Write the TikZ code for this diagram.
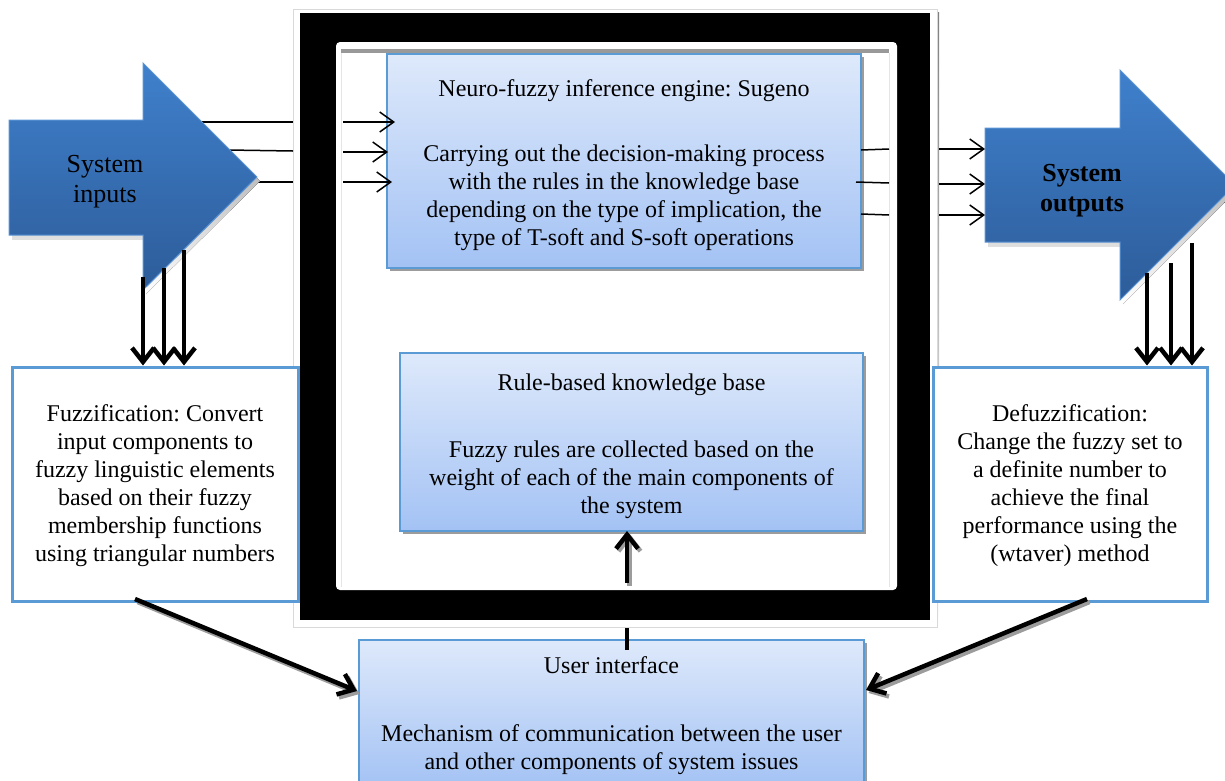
\documentclass[tikz,border=0pt]{standalone}
\usepackage{fontspec}
\setmainfont{Liberation Serif}
\usetikzlibrary{arrows.meta,shadows,calc}
\frenchspacing

\definecolor{boxline}{HTML}{5B9BD5}
\definecolor{boxtop}{HTML}{DEE9FB}
\definecolor{boxbot}{HTML}{A3C2F4}
\definecolor{bigtop}{HTML}{3F80CC}
\definecolor{bigbot}{HTML}{2D5C99}
\definecolor{bigline}{HTML}{5A93D4}
\definecolor{shade}{HTML}{9C9C9C}

\tikzset{
  txt/.style={font=\fontsize{24}{28}\selectfont, align=center, text=black, inner sep=0pt},
  bigtxt/.style={font=\fontsize{26}{30}\selectfont, align=center, text=black},
  bluebox/.style={draw=boxline, line width=1.5pt, top color=boxtop, bottom color=boxbot,
    inner sep=0pt, drop shadow={shadow xshift=2.5pt, shadow yshift=-2.5pt, fill=shade, opacity=1}},
  whitebox/.style={draw=boxline, line width=3pt, fill=white, inner sep=0pt},
  bigarrow/.style={draw=bigline, line width=1pt, top color=bigtop, bottom color=bigbot},
  thinline/.style={line width=1.5pt},
  thinarrow/.style={line width=1.5pt, -{Straight Barb[length=14pt,width=20pt]}},
  thickline/.style={line width=4.5pt},
  thickarrow/.style={line width=4.5pt, -{Straight Barb[length=14pt,width=22pt]}},
  shadowline/.style={thickarrow, draw=shade}
}

\begin{document}
\begin{tikzpicture}[x=1pt, y=-1pt]
\useasboundingbox (0,0) rectangle (1225,780);
\clip (0,0) rectangle (1225,780);

% ---- central frame ----
\fill[shade] (295,12) rectangle (939,630);
\draw[black!15, fill=white] (293,9) rectangle (937,627);
\fill[black] (300,13) rectangle (930,620);
\fill[white, rounded corners=4pt] (336,42) rectangle (897,590);
\fill[black!40] (341,49) rectangle (889,53);
\draw[black!10] (341,53) -- (341,587) (889,53) -- (889,587);

% ---- boxes ----
\node[bluebox, minimum width=474pt, minimum height=214pt] (engine) at (624,161) {};
\node[txt] (enginetext) at ($(engine.center)+(0,4)$)
  {Neuro-fuzzy inference engine: Sugeno\\[37pt]
   Carrying out the decision-making process\\
   with the rules in the knowledge base\\
   depending on the type of implication, the\\
   type of T-soft and S-soft operations};

\node[bluebox, minimum width=463pt, minimum height=178pt] (rule) at (631.5,442) {};
\node[txt] (ruletext) at ($(rule.center)+(0,4)$)
  {Rule-based knowledge base\\[39pt]
   Fuzzy rules are collected based on the\\
   weight of each of the main components of\\
   the system};

\node[bluebox, minimum width=505pt, minimum height=147pt] (ui) at (611.5,713.5) {};
\node[txt] (uitext) at ($(ui.center)+(0,2)$)
  {User interface\\[40pt]
   Mechanism of communication between the user\\
   and other components of system issues};

\node[whitebox, minimum width=286pt, minimum height=234pt] (fuzz) at (155,484) {};
\node[txt] (fuzztext) at ($(fuzz.center)+(0,2)$)
  {Fuzzification: Convert\\
   input components to\\
   fuzzy linguistic elements\\
   based on their fuzzy\\
   membership functions\\
   using triangular numbers};

\node[whitebox, minimum width=274pt, minimum height=234pt] (defuzz) at (1070,484) {};
\node[txt] (defuzztext) at ($(defuzz.center)+(0,2)$)
  {Defuzzification:\\
   Change the fuzzy set to\\
   a definite number to\\
   achieve the final\\
   performance using the\\
   (wtaver) method};

% ---- input signal lines (drawn under the input arrow) ----
\coordinate (i1s) at (200,122); \coordinate (i1e) at (293,122);
\coordinate (i2s) at (228,150); \coordinate (i2e) at (293,151);
\coordinate (i3s) at (250,182); \coordinate (i3e) at (293,182);
\draw[thinline] (i1s) -- (i1e);
\draw[thinline] (i2s) -- (i2e);
\draw[thinline] (i3s) -- (i3e);

% ---- big "System inputs" arrow ----
\fill[shade] (12,124) -- (146,124) -- (146,67) -- (260,181) -- (146,294) -- (146,239) -- (12,239) -- cycle;
\draw[bigarrow] (9,120) -- (143,120) -- (143,63) -- (257,177) -- (143,290) -- (143,235) -- (9,235) -- cycle;
\node[bigtxt] (inputs) at (105,182) {System\\inputs};

% ---- big "System outputs" arrow ----
\fill[shade] (988,132) -- (1123,132) -- (1123,74) -- (1238,189) -- (1123,304) -- (1123,246) -- (988,246) -- cycle;
\draw[bigarrow] (985,128) -- (1120,128) -- (1120,70) -- (1235,185) -- (1120,300) -- (1120,242) -- (985,242) -- cycle;
\node[bigtxt, font=\fontsize{26}{30}\selectfont\bfseries] (outputs) at (1082,191) {System\\outputs};

% ---- inputs entering the inference engine ----
\coordinate (a1s) at (343,122); \coordinate (a1e) at (395,122);
\coordinate (a2s) at (343,152); \coordinate (a2e) at (388,152);
\coordinate (a3s) at (343,182); \coordinate (a3e) at (392,182);
\draw[thinarrow] (a1s) -- (a1e);
\draw[thinarrow] (a2s) -- (a2e);
\draw[thinarrow] (a3s) -- (a3e);

% ---- engine outputs ----
\coordinate (o1s) at (861,150); \coordinate (o1e) at (889,149);
\coordinate (o2s) at (856,182); \coordinate (o2e) at (889,183);
\coordinate (o3s) at (861,214); \coordinate (o3e) at (889,215);
\draw[thinline] (o1s) -- (o1e);
\draw[thinline] (o2s) -- (o2e);
\draw[thinline] (o3s) -- (o3e);
\coordinate (b1s) at (939,149); \coordinate (b1e) at (985,149);
\coordinate (b2s) at (939,184); \coordinate (b2e) at (985,184);
\coordinate (b3s) at (939,215); \coordinate (b3e) at (985,215);
\draw[thinarrow] (b1s) -- (b1e);
\draw[thinarrow] (b2s) -- (b2e);
\draw[thinarrow] (b3s) -- (b3e);

% ---- inputs down to fuzzification ----
\coordinate (d1) at (143,277); \coordinate (d2) at (164,268); \coordinate (d3) at (184,250);
\draw[thickarrow] (d1) -- (d1 |- fuzz.north);
\draw[thickarrow] (d2) -- (d2 |- fuzz.north);
\draw[thickarrow] (d3) -- (d3 |- fuzz.north);

% ---- outputs down to defuzzification ----
\coordinate (e1) at (1147,273); \coordinate (e2) at (1171,263); \coordinate (e3) at (1192,243);
\draw[thickarrow] (e1) -- (e1 |- defuzz.north);
\draw[thickarrow] (e2) -- (e2 |- defuzz.north);
\draw[thickarrow] (e3) -- (e3 |- defuzz.north);

% ---- user interface to knowledge base ----
\coordinate (up) at (627,583);
\coordinate (rulein) at (627,531);
\draw[shadowline] ([shift={(2.5,2.5)}]up) -- ([shift={(2.5,2.5)}]rulein);
\draw[thickarrow] (up) -- (rulein);
\coordinate (uitop) at (627,628);
\draw[thickline] (uitop) -- (627,650);

% ---- fuzzification / defuzzification to user interface ----
\coordinate (fz) at (135,599);
\coordinate (dz) at (1087,599);
\coordinate (uil) at (357,691);
\coordinate (uir) at (866,690);
\draw[shadowline] ([shift={(2.5,3)}]fz) -- ([shift={(2.5,3)}]uil);
\draw[shadowline] ([shift={(2.5,3)}]dz) -- ([shift={(2.5,3)}]uir);
\draw[thickarrow] (fz) -- (uil);
\draw[thickarrow] (dz) -- (uir);
\end{tikzpicture}
\end{document}
